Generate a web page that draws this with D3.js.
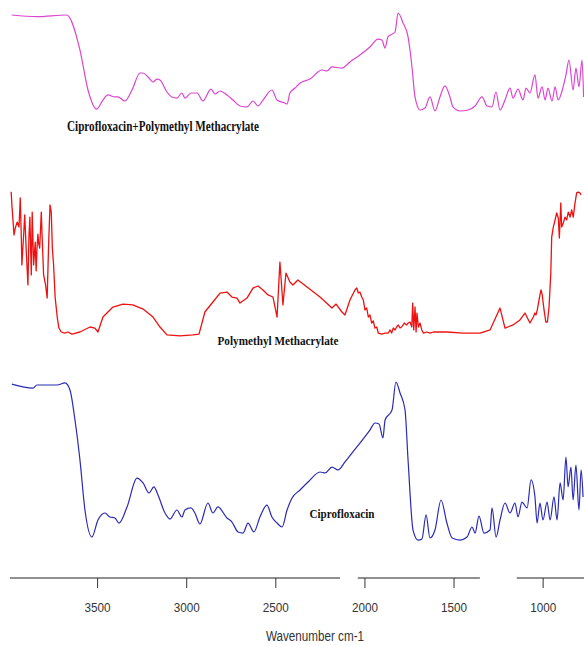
<!DOCTYPE html>
<html>
<head>
<meta charset="utf-8">
<script src="https://cdn.jsdelivr.net/npm/d3@7"></script>
<style>
  html, body { margin: 0; padding: 0; background: #fff; }
  svg { display: block; }
</style>
</head>
<body>
<svg id="chart" width="584" height="645"></svg>
<script>
// FTIR spectra, wavenumber (cm-1) vs relative transmittance (0-100, per trace)

const combinedWavenumber = [3982,3842,3674,3599,3554,3505,3470,3442,3403,3386,3347,3307,3262,3245,3217,3189,3167,3150,3111,3083,3055,3027,3010,2976,2942,2909,2864,2841,2813,2774,2740,2701,2662,2628,2600,2572,2522,2493,2449,2437,2421,2392,2364,2308,2241,2213,2185,2129,2084,2028,1972,1927,1905,1887,1871,1831,1814,1786,1758,1736,1719,1691,1663,1635,1607,1579,1551,1523,1506,1466,1422,1382,1343,1315,1287,1265,1242,1214,1186,1169,1141,1113,1096,1074,1046,1029,1006,989,973,950,933,916,888,872,855,832,816,799,782,773];
const combinedT = [98,96.3,98,62.6,22.2,3,12.1,17.2,15.2,15.2,11.1,22.2,39.4,39.4,35.4,30.3,33.3,32.3,20.2,15.2,14.1,19.2,14.1,19.2,19.2,11.1,23.2,18.2,21.2,17.2,12.1,6.1,5.1,11.1,6.1,12.1,22.2,12.1,9.1,8.1,19.2,24.2,29.3,33.3,42.4,41.4,45.5,44.4,50.5,57.6,65.7,73.7,72.7,64.6,75.8,80.8,100,89.9,75.8,45.5,15.2,2,4,15.2,1,15.2,26.3,15.2,5.1,1,2,6.1,15.2,6.1,5.1,20.2,2,12.1,24.2,14.1,23.2,12.1,24.2,19.2,37.4,14.1,25.3,12.1,24.2,11.1,25.3,12.1,25.3,37.4,52.5,22.2,44.4,25.3,52.5,15.2];

const pmmaWavenumber = [3985,3981,3969,3962,3951,3941,3934,3928,3925,3915,3909,3900,3891,3885,3880,3872,3867,3859,3850,3845,3840,3835,3831,3825,3816,3811,3803,3792,3783,3775,3767,3760,3754,3747,3738,3726,3717,3704,3685,3666,3644,3599,3543,3515,3498,3470,3414,3358,3302,3245,3189,3150,3111,3038,2965,2931,2898,2853,2813,2774,2746,2718,2701,2662,2628,2600,2572,2544,2516,2493,2477,2460,2443,2421,2404,2376,2325,2252,2185,2162,2129,2112,2084,2056,2046,2037,2028,2018,2009,2000,1990,1981,1972,1962,1953,1944,1934,1925,1906,1887,1869,1859,1850,1841,1831,1822,1813,1803,1794,1779,1766,1757,1747,1737,1732,1726,1719,1713,1708,1700,1691,1681,1672,1653,1635,1616,1540,1450,1354,1298,1242,1214,1169,1130,1102,1074,1055,1046,1040,1033,1018,1012,1005,995,985,976,967,957,952,943,933,924,915,909,901,896,887,877,868,859,849,840,831,821,812,803,793,787];
const pmmaT = [98.8,89.8,69.4,74.1,78.2,74.8,94.6,67.3,49,69.4,83,57.8,35.4,69.4,81.6,42.2,85,49,64.6,45,60.5,70,63.9,60.5,85,67.3,42.2,35.4,26.5,62.6,89.8,85,60.5,49,26.5,12.9,6.1,3.4,2.7,3.4,2,3.4,6.8,6.1,3.4,13.6,20.4,22.4,21.8,19,13.6,6.8,1.4,0.7,1.4,2,17,23.8,29.9,30.6,27.2,26.5,23.1,26.5,33.3,34.7,32,28.6,27.2,13.6,51,21.8,43.5,37.4,35.4,38.8,34,27.2,19.7,22.4,17,15,25.2,32,33.3,29.9,30.6,27.2,25.2,18.4,19.7,13.6,15,9.5,10.9,6.1,6.8,2.7,2,2.7,2.7,4.8,2.7,6.1,4.8,6.8,8.2,6.1,6.8,9.5,8.2,9.5,10.2,6.8,23.1,4.8,20.4,3.4,16.3,6.8,9.5,4.8,2.7,3.4,2.7,3.4,3.4,2.7,2.7,4.8,19.7,6.1,8.2,11.6,16.3,9.5,13.6,16.3,15,18.4,28.6,32,28.6,18.4,10.2,10.2,20.4,43.5,68,74.8,79.6,84.4,81,67.3,91.2,74.8,77.6,81.6,79.6,85,81.6,86.4,81.6,91.2,98,98.6,98,96.6];

const ciproWavenumber = [3981,3863,3840,3728,3683,3655,3627,3599,3571,3532,3498,3459,3431,3403,3380,3335,3279,3245,3212,3184,3161,3122,3094,3055,3027,3010,2976,2954,2926,2881,2853,2825,2774,2746,2712,2684,2656,2623,2589,2550,2522,2493,2465,2437,2409,2364,2319,2252,2224,2185,2151,2112,2073,2028,1972,1943,1921,1899,1887,1848,1826,1803,1775,1758,1730,1702,1680,1657,1635,1607,1573,1540,1511,1466,1427,1399,1382,1360,1332,1298,1287,1264,1242,1214,1186,1158,1141,1119,1090,1068,1046,1034,1018,1001,978,961,939,922,905,888,872,860,844,832,816,799,787,776];
const ciproT = [98.7,96.2,98.1,98.1,99.4,95,76.1,50.9,19.5,2.5,13.2,17.6,15.1,14.5,11.3,21.4,39.6,36.5,30.2,34,28.9,17.6,13.8,19.5,15.1,19.5,20.8,17.6,10.7,23.9,17.6,21.4,14.5,11.9,5.7,5,11.3,5.7,15.1,22.6,15.1,11.3,8.8,19.5,27,32.1,37.1,43.4,42.8,46.5,44.7,49.7,55.3,61.6,69.8,74.2,73.6,64.8,76.1,82.4,100,93.1,82.4,50.9,6.9,0.6,1.3,16.4,1.9,6.9,25.8,11.3,1.9,0.6,2.5,8.8,5,15.7,5,6.9,20.8,2.5,13.2,23.9,17.6,23.9,15.1,24.5,20.8,38.4,27.7,11.3,23.9,13.2,24.5,13.2,27.7,13.2,36.5,25.8,52.8,34,46.5,25.8,47.8,19.5,44.7,27.7];

const traceNames = ["Ciprofloxacin+Polymethyl Methacrylate", "Polymethyl Methacrylate", "Ciprofloxacin"];
const traceColors = ["#dc45cf", "#ee1111", "#2a2ab4"];

// broken wavenumber axis: segments drawn between these limits
const axisSegments = [[3992, 2140], [2040, 1355], [1148, 740]];
const tickValues = [3500, 3000, 2500, 2000, 1500, 1000];
const axisTitle = "Wavenumber cm-1";

const svg = d3.select("#chart");

const x = d3.scaleLinear().domain([4000, 750]).range([8.5, 587.7]);

const panels = [
  { w: combinedWavenumber, t: combinedT, y: d3.scaleLinear().domain([0, 100]).range([112, 13]), curve: d3.curveMonotoneX, width: 1.2,
    label: { x: 163, y: 131, len: 192, size: 14 } },
  { w: pmmaWavenumber, t: pmmaT, y: d3.scaleLinear().domain([0, 100]).range([337, 190]), curve: d3.curveLinear, width: 1.3,
    label: { x: 278, y: 345, len: 121, size: 13 } },
  { w: ciproWavenumber, t: ciproT, y: d3.scaleLinear().domain([0, 100]).range([541, 382]), curve: d3.curveMonotoneX, width: 1.2,
    label: { x: 342, y: 518, len: 65, size: 13 } }
];

panels.forEach((p, i) => {
  const pts = p.w.map((w, k) => [w, p.t[k]]);
  const line = d3.line().x(d => x(d[0])).y(d => p.y(d[1])).curve(p.curve);
  svg.append("path")
    .datum(pts)
    .attr("d", line)
    .attr("fill", "none")
    .attr("stroke", traceColors[i])
    .attr("stroke-width", p.width)
    .attr("stroke-linejoin", "round");

  svg.append("text")
    .attr("x", p.label.x)
    .attr("y", p.label.y)
    .attr("text-anchor", "middle")
    .attr("font-family", "'Liberation Serif', 'Times New Roman', serif")
    .attr("font-weight", "bold")
    .attr("font-size", p.label.size)
    .attr("textLength", p.label.len)
    .attr("lengthAdjust", "spacingAndGlyphs")
    .attr("fill", "#111")
    .text(traceNames[i]);
});

// axis
const axisY = 578;
const axisG = svg.append("g");
axisSegments.forEach(s => {
  axisG.append("line")
    .attr("x1", x(s[0])).attr("x2", Math.min(x(s[1]), 584))
    .attr("y1", axisY).attr("y2", axisY)
    .attr("stroke", "#222").attr("stroke-width", 1.2);
});
tickValues.forEach(v => {
  axisG.append("line")
    .attr("x1", x(v)).attr("x2", x(v))
    .attr("y1", axisY).attr("y2", axisY + 10)
    .attr("stroke", "#333").attr("stroke-width", 1);
  axisG.append("text")
    .attr("x", x(v)).attr("y", axisY + 34)
    .attr("text-anchor", "middle")
    .attr("font-family", "'Liberation Sans', Arial, sans-serif")
    .attr("font-size", 13)
    .attr("textLength", 26)
    .attr("lengthAdjust", "spacingAndGlyphs")
    .attr("fill", "#333")
    .text(v);
});
svg.append("text")
  .attr("x", 315).attr("y", 641)
  .attr("text-anchor", "middle")
  .attr("font-family", "'Liberation Sans', Arial, sans-serif")
  .attr("font-size", 14)
  .attr("textLength", 98)
  .attr("lengthAdjust", "spacingAndGlyphs")
  .attr("fill", "#333")
  .text(axisTitle);
</script>
</body>
</html>
